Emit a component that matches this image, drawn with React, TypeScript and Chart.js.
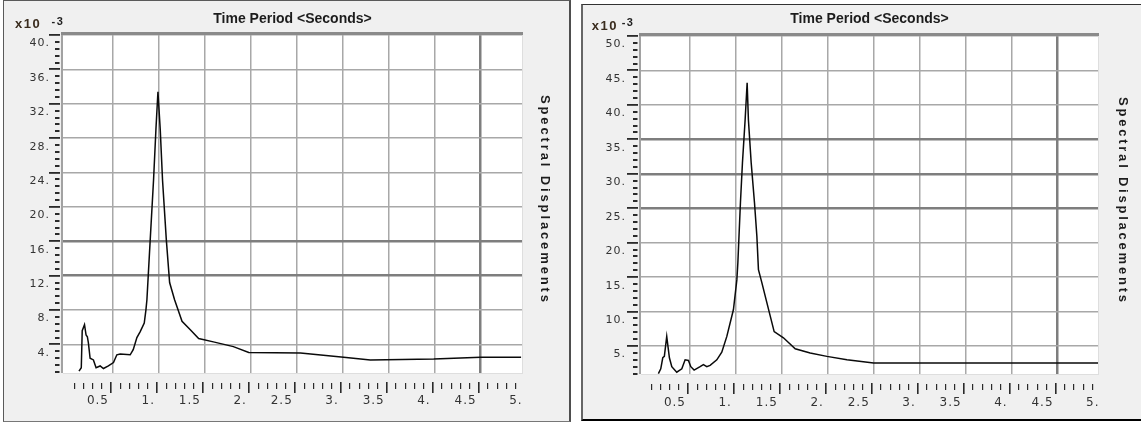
import React, { useEffect, useRef } from "react";
import { Chart, registerables } from "chart.js";

Chart.register(...registerables);

// ---------------- data (displacements in units of 10^-3) ----------------
const leftPeriods = [0.13, 0.155, 0.165, 0.19, 0.207, 0.221, 0.232, 0.251, 0.287, 0.316, 0.36, 0.396, 0.45, 0.505, 0.542, 0.578, 0.687, 0.72, 0.76, 0.796, 0.84, 0.858, 0.869, 0.905, 0.941, 0.967, 0.989, 1.014, 1.039, 1.08, 1.116, 1.17, 1.251, 1.341, 1.432, 1.592, 1.81, 1.977, 2.54, 3.01, 3.3, 3.99, 4.5, 4.94];
const leftDisplacements = [0.9, 1.3, 5.6, 6.3, 5.1, 4.9, 4.2, 2.4, 2.2, 1.3, 1.5, 1.2, 1.5, 1.9, 2.8, 2.9, 2.8, 3.4, 4.8, 5.5, 6.5, 8.0, 9.2, 16.2, 23.1, 29.0, 33.4, 29.0, 23.1, 16.2, 11.2, 9.2, 6.7, 5.7, 4.7, 4.3, 3.75, 3.06, 3.0, 2.5, 2.2, 2.3, 2.5, 2.5];

const rightPeriods = [0.156, 0.182, 0.204, 0.221, 0.247, 0.276, 0.302, 0.356, 0.411, 0.447, 0.483, 0.509, 0.545, 0.61, 0.646, 0.683, 0.719, 0.792, 0.846, 0.901, 0.973, 1.01, 1.021, 1.049, 1.071, 1.1, 1.122, 1.136, 1.166, 1.202, 1.228, 1.245, 1.282, 1.329, 1.416, 1.517, 1.645, 1.808, 1.99, 2.208, 2.498, 4.94];
const rightDisplacements = [1.0, 1.7, 3.3, 3.5, 6.4, 3.3, 2.0, 1.2, 1.7, 3.0, 2.9, 2.0, 1.5, 2.0, 2.3, 2.0, 2.2, 3.0, 4.1, 6.4, 10.3, 14.6, 17.1, 25.8, 31.6, 37.8, 43.2, 37.8, 31.6, 25.8, 20.9, 16.1, 14.2, 11.7, 7.1, 6.2, 4.6, 4.0, 3.5, 3.0, 2.55, 2.55];

const xTickValues = [0.5, 1, 1.5, 2, 2.5, 3, 3.5, 4, 4.5, 5];
const leftYTicks = [4, 8, 12, 16, 20, 24, 28, 32, 36, 40];
const rightYTicks = [5, 10, 15, 20, 25, 30, 35, 40, 45, 50];

const X_TITLE = "Time Period <Seconds>";
const Y_TITLE = "Spectral Displacements";
const EXP_BASE = "x10";
const EXP_POWER = "-3";

// ---------------- styling ----------------
const FONT = '"Liberation Sans", Arial, sans-serif';
const TICK_FONT = '"DejaVu Sans", "Liberation Sans", sans-serif';

type PanelCfg = {
  periods: number[];
  values: number[];
  xMin: number;
  xMax: number;
  yMin: number;
  yMax: number;
  yTicks: number[];
  yMinorStep: number;
  darkY: number[];
  darkX: number[];
  canvasW: number;
  canvasH: number;
  axisLeft: number;
  axisTop: number;
  axisRight: number;
  axisBottom: number;
  yLabelGap: number;
  xLabelGap: number;
  titleY: number;
  vTitleX: number;
  vTitleY: number;
  vTitleLen: number;
  x10: [number, number];
  exp: [number, number];
};

const leftCfg: PanelCfg = {
  periods: leftPeriods,
  values: leftDisplacements,
  xMin: -0.044,
  xMax: 4.95,
  yMin: 0.68,
  yMax: 40.12,
  yTicks: leftYTicks,
  yMinorStep: 0.8,
  darkY: [12, 16],
  darkX: [4.5],
  canvasW: 565,
  canvasH: 420,
  axisLeft: 59,
  axisTop: 33,
  axisRight: 47,
  axisBottom: 48,
  yLabelGap: 13,
  xLabelGap: 21,
  titleY: 18.5,
  vTitleX: 541,
  vTitleY: 197.5,
  vTitleLen: 207,
  x10: [11, 27],
  exp: [47.5, 24],
};

const rightCfg: PanelCfg = {
  periods: rightPeriods,
  values: rightDisplacements,
  xMin: -0.033,
  xMax: 4.94,
  yMin: 0.94,
  yMax: 50.15,
  yTicks: rightYTicks,
  yMinorStep: 1,
  darkY: [25, 30, 35],
  darkX: [4.5],
  canvasW: 558,
  canvasH: 414,
  axisLeft: 58,
  axisTop: 30,
  axisRight: 43,
  axisBottom: 45,
  yLabelGap: 15,
  xLabelGap: 22,
  titleY: 14,
  vTitleX: 539.5,
  vTitleY: 194.5,
  vTitleLen: 205,
  x10: [8.7, 25],
  exp: [38.7, 21],
};

function fmt(v: number): string {
  return Number.isInteger(v) ? `${v}.` : `${v}`;
}

function makeDecor(cfg: PanelCfg) {
  return {
    id: "decor",
    beforeDraw(chart: any) {
      const { ctx, chartArea: a } = chart;
      ctx.save();
      ctx.fillStyle = "#ffffff";
      ctx.fillRect(a.left, a.top, a.right - a.left, a.bottom - a.top);
      ctx.restore();
      ctx.letterSpacing = "1px";
    },
    beforeDatasetsDraw(chart: any) {
      const { ctx, chartArea: a } = chart;
      ctx.save();
      ctx.fillStyle = "#dedede";
      ctx.fillRect(a.right, a.top, 1, a.bottom - a.top + 1);
      ctx.fillRect(a.left, a.bottom, a.right - a.left + 1, 1);
      ctx.fillStyle = "#a2a2a2";
      ctx.fillRect(a.left - 2, a.top - 2, 2, a.bottom - a.top + 2);
      ctx.fillStyle = "#8a8a8a";
      ctx.fillRect(a.left - 2, a.top - 2, a.right - a.left + 3, 3);
      ctx.restore();
    },
    afterDraw(chart: any) {
      const { ctx, chartArea: a, scales } = chart;
      const xs = scales.x;
      const ys = scales.y;
      ctx.save();
      ctx.letterSpacing = "0px";
      ctx.fillStyle = "#2a2a2a";
      // x axis tick marks (minor every 0.1, major every 0.5)
      for (let k = 1; k < 50; k++) {
        const v = k / 10;
        if (v > cfg.xMax) break;
        const px = Math.round(xs.getPixelForValue(v) - 2.5);
        const major = k % 5 === 0;
        if (major) ctx.fillRect(px, a.bottom + 9, 1.6, 11);
        else ctx.fillRect(px, a.bottom + 10, 1.2, 6);
      }
      // y axis tick marks
      for (let k = 1; k < 200; k++) {
        const v = k * cfg.yMinorStep;
        if (v > cfg.yMax + 1e-6) break;
        const py = Math.round(ys.getPixelForValue(v));
        const major = k % 5 === 0;
        if (major) ctx.fillRect(a.left - 14, py - 1, 11, 1.8);
        else ctx.fillRect(a.left - 8, py - 1, 4.5, 2);
      }
      // top title
      ctx.fillStyle = "#1c1c1c";
      ctx.font = `bold 14px ${FONT}`;
      ctx.textAlign = "center";
      ctx.textBaseline = "middle";
      ctx.fillText(X_TITLE, (a.left + a.right) / 2, cfg.titleY);
      // right vertical title (spaced characters)
      ctx.font = `bold 13px ${FONT}`;
      const chars = Array.from(Y_TITLE);
      const widths = chars.map((ch) => ctx.measureText(ch).width);
      const natural = widths.reduce((s, w) => s + w, 0);
      const spacing = Math.max(0, (cfg.vTitleLen - natural) / (chars.length - 1));
      ctx.save();
      ctx.translate(cfg.vTitleX, cfg.vTitleY);
      ctx.rotate(Math.PI / 2);
      ctx.textAlign = "left";
      ctx.textBaseline = "middle";
      let x = -cfg.vTitleLen / 2;
      chars.forEach((ch, i) => {
        ctx.fillText(ch, x, 0);
        x += widths[i] + spacing;
      });
      ctx.restore();
      // exponent label
      ctx.textAlign = "left";
      ctx.textBaseline = "alphabetic";
      ctx.fillStyle = "#3a2c1e";
      ctx.letterSpacing = "1.5px";
      ctx.font = `bold 13px ${FONT}`;
      ctx.fillText(EXP_BASE, cfg.x10[0], cfg.x10[1]);
      ctx.fillStyle = "#222";
      ctx.font = `bold 11px ${FONT}`;
      ctx.fillText(EXP_POWER, cfg.exp[0], cfg.exp[1]);
      ctx.letterSpacing = "0px";
      ctx.restore();
    },
  };
}

function ChartPanel({ cfg }: { cfg: PanelCfg }) {
  const ref = useRef<HTMLCanvasElement | null>(null);
  useEffect(() => {
    if (!ref.current) return;
    const isDarkX = (v: number) => cfg.darkX.includes(v);
    const isDarkY = (v: number) => cfg.darkY.includes(v);
    const chart = new Chart(ref.current, {
      type: "line",
      data: {
        datasets: [
          {
            data: cfg.periods.map((p, i) => ({ x: p, y: cfg.values[i] })),
            borderColor: "#0a0a0a",
            borderWidth: 1.5,
            pointRadius: 0,
            tension: 0,
            fill: false,
            xAxisID: "x",
            yAxisID: "y",
          },
        ],
      },
      options: {
        animation: false,
        responsive: false,
        devicePixelRatio: 1,
        layout: { padding: 0 },
        plugins: {
          legend: { display: false },
          tooltip: { enabled: false },
          title: { display: false },
        },
        scales: {
          x: {
            type: "linear",
            position: "bottom",
            min: cfg.xMin,
            max: cfg.xMax,
            afterBuildTicks: (s: any) => {
              s.ticks = xTickValues.map((v) => ({ value: v }));
            },
            afterFit: (s: any) => {
              s.height = cfg.axisBottom;
            },
            border: { display: false },
            grid: {
              drawTicks: true,
              tickLength: cfg.xLabelGap,
              tickColor: "rgba(0,0,0,0)",
              color: (c: any) => {
                const v = c.tick ? c.tick.value : 0;
                if (v > cfg.xMax) return "rgba(0,0,0,0)";
                return isDarkX(v) ? "#7e7e7e" : "#a8a8a8";
              },
              lineWidth: (c: any) => (c.tick && isDarkX(c.tick.value) ? 2.5 : 1.5),
            },
            ticks: {
              autoSkip: false,
              maxRotation: 0,
              minRotation: 0,
              align: "end",
              labelOffset: -4,
              padding: 0,
              color: "#333333",
              font: { family: TICK_FONT, size: 12 },
              callback: (v: any) => fmt(Number(v)),
            },
          },
          y: {
            type: "linear",
            position: "left",
            min: cfg.yMin,
            max: cfg.yMax,
            afterBuildTicks: (s: any) => {
              s.ticks = cfg.yTicks.map((v) => ({ value: v }));
            },
            afterFit: (s: any) => {
              s.width = cfg.axisLeft;
            },
            border: { display: false },
            grid: {
              drawTicks: true,
              tickLength: cfg.yLabelGap,
              tickColor: "rgba(0,0,0,0)",
              color: (c: any) => (c.tick && isDarkY(c.tick.value) ? "#7e7e7e" : "#a8a8a8"),
              lineWidth: (c: any) => (c.tick && isDarkY(c.tick.value) ? 2.5 : 1.5),
            },
            ticks: {
              autoSkip: false,
              padding: 0,
              labelOffset: 8.5,
              color: "#333333",
              font: { family: TICK_FONT, size: 11 },
              callback: (v: any) => fmt(Number(v)),
            },
          },
          x2: {
            type: "linear",
            position: "top",
            display: true,
            grid: { display: false },
            border: { display: false },
            ticks: { display: false },
            afterFit: (s: any) => {
              s.height = cfg.axisTop;
            },
          },
          y2: {
            type: "linear",
            position: "right",
            display: true,
            grid: { display: false },
            border: { display: false },
            ticks: { display: false },
            afterFit: (s: any) => {
              s.width = cfg.axisRight;
            },
          },
        },
      } as any,
      plugins: [makeDecor(cfg)],
    });
    return () => chart.destroy();
  }, [cfg]);
  return (
    <canvas
      ref={ref}
      width={cfg.canvasW}
      height={cfg.canvasH}
      style={{ display: "block", width: cfg.canvasW, height: cfg.canvasH }}
    />
  );
}

export default function App() {
  return (
    <div
      style={{
        position: "fixed",
        left: 0,
        top: 0,
        width: 1141,
        height: 423,
        background: "#ffffff",
        overflow: "hidden",
      }}
    >
      <div
        style={{
          position: "absolute",
          left: 3,
          top: 0,
          width: 568,
          height: 422,
          boxSizing: "border-box",
          borderTop: "1px solid #5a5a5a",
          borderLeft: "1px solid #5a5a5a",
          borderRight: "2px solid #4e4e4e",
          borderBottom: "1px solid #777777",
          background: "#f0f0f0",
          overflow: "hidden",
        }}
      >
        <ChartPanel cfg={leftCfg} />
      </div>
      <div
        style={{
          position: "absolute",
          left: 581,
          top: 4,
          width: 600,
          height: 417,
          boxSizing: "border-box",
          borderTop: "1px solid #333333",
          borderLeft: "2px solid #666666",
          borderBottom: "2px solid #000000",
          background: "#f0f0f0",
          overflow: "hidden",
        }}
      >
        <ChartPanel cfg={rightCfg} />
      </div>
    </div>
  );
}
